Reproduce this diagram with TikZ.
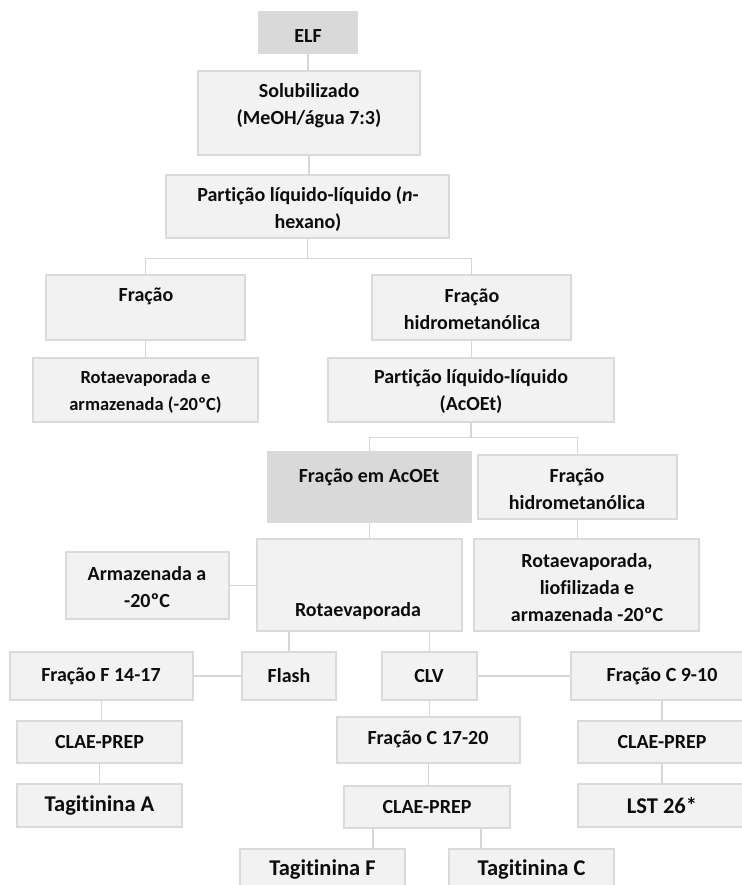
\documentclass[tikz,border=0pt]{standalone}
\usepackage{fontspec}
\setmainfont{Carlito}[Ligatures=NoCommon]
\usetikzlibrary{calc}
\definecolor{boxfill}{HTML}{F2F2F2}
\definecolor{boxdark}{HTML}{D9D9D9}
\definecolor{boxline}{HTML}{DADADA}
\definecolor{conn}{HTML}{D6D6D6}
\begin{document}
\begin{tikzpicture}[x=1pt,y=-1pt,
  box/.style={draw=boxline, fill=boxfill, line width=1.4pt, inner sep=0pt},
  darkbox/.style={box, fill=boxdark},
  txt/.style={font=\fontsize{20}{27}\selectfont\bfseries, align=center, inner sep=0pt, text=black!95},
  txtsmall/.style={txt, font=\fontsize{18.5}{27}\selectfont\bfseries},
  txtbig/.style={txt, font=\fontsize{22.5}{27}\selectfont\bfseries},
  link/.style={draw=conn, line width=1.4pt}]
\fill[white] (0,0) rectangle (741,885);
\useasboundingbox (0,0) rectangle (741,885);

% boxes
\node[darkbox, minimum width=98pt, minimum height=41pt] (elf) at (308,32.5) {};
\node[box, minimum width=222pt, minimum height=84pt] (sol) at (309,113) {};
\node[box, minimum width=283pt, minimum height=63pt] (part1) at (307.5,206.5) {};
\node[box, minimum width=199pt, minimum height=65pt] (frac) at (145.5,307.5) {};
\node[box, minimum width=199pt, minimum height=65pt] (fhid) at (471.5,307.5) {};
\node[box, minimum width=225pt, minimum height=64pt] (rot1) at (145.5,390) {};
\node[box, minimum width=286pt, minimum height=64pt] (part2) at (471,390) {};
\node[darkbox, minimum width=203pt, minimum height=70pt] (facoet) at (369.5,487) {};
\node[box, minimum width=199pt, minimum height=64pt] (fhid2) at (577.5,487) {};
\node[box, minimum width=205pt, minimum height=92pt] (rotev) at (359.5,585) {};
\node[box, minimum width=163pt, minimum height=67pt] (armaz) at (147.5,585.5) {};
\node[box, minimum width=225pt, minimum height=92pt] (rotliof) at (586.5,585) {};
\node[box, minimum width=183pt, minimum height=48pt] (fracF) at (101.5,676) {};
\node[box, minimum width=94pt, minimum height=48pt] (flash) at (289,676) {};
\node[box, minimum width=95pt, minimum height=48pt] (clv) at (429.5,676) {};
\node[box, minimum width=182pt, minimum height=48pt] (fc910) at (662,676) {};
\node[box, minimum width=165pt, minimum height=42pt] (clae1) at (99.5,742) {};
\node[box, minimum width=183pt, minimum height=46pt] (fc1720) at (428.5,740) {};
\node[box, minimum width=168pt, minimum height=42pt] (clae3) at (662,742) {};
\node[box, minimum width=165pt, minimum height=43pt] (tagA) at (99.5,805.5) {};
\node[box, minimum width=166pt, minimum height=42pt] (clae2) at (427,807) {};
\node[box, minimum width=168pt, minimum height=43pt] (lst) at (662,805.5) {};
\node[box, minimum width=165pt, minimum height=44pt] (tagF) at (322.5,871) {};
\node[box, minimum width=165pt, minimum height=44pt] (tagC) at (531.5,871) {};

% texts
\node[txt] (telf) at (308,36) {ELF};
\node[txt] (tsol) at (309,105.5) {Solubilizado\\(MeOH/água 7:3)};
\node[txt] (tpart1) at (308,209) {Partição líquido-líquido (\textit{n}-\\hexano)};
\node[txt] (tfrac) at (146,296) {Fração};
\node[txt] (tfhid) at (472,309.5) {Fração\\hidrometanólica};
\node[txtsmall] (trot1) at (145.5,391.5) {Rotaevaporada e\\armazenada (-20ºC)};
\node[txt] (tpart2) at (471,391.5) {Partição líquido-líquido\\(AcOEt)};
\node[txt] (tfacoet) at (369,477) {Fração em AcOEt};
\node[txt] (tfhid2) at (577,489) {Fração\\hidrometanólica};
\node[txt] (tarmaz) at (147,587.5) {Armazenada a\\-20ºC};
\node[txt] (trotev) at (358,611) {Rotaevaporada};
\node[txt] (trotliof) at (587,587.5) {Rotaevaporada,\\liofilizada e\\armazenada -20ºC};
\node[txt] (tfracF) at (101,676) {Fração F 14-17};
\node[txt] (tflash) at (289,676) {Flash};
\node[txt] (tclv) at (429,676) {CLV};
\node[txt] (tfc910) at (662,676) {Fração C 9-10};
\node[txt] (tclae1) at (99.5,742) {CLAE-PREP};
\node[txt] (tfc1720) at (428,739) {Fração C 17-20};
\node[txt] (tclae3) at (662,742) {CLAE-PREP};
\node[txtbig] (ttagA) at (99.5,806) {Tagitinina A};
\node[txt] (tclae2) at (427,807) {CLAE-PREP};
\node[txtbig] (tlst) at (662,806) {LST 26*};
\node[txtbig] (ttagF) at (322.5,870) {Tagitinina F};
\node[txtbig] (ttagC) at (531.5,870) {Tagitinina C};

% connectors
\draw[link] (elf.south) -- (elf.south |- sol.north);
\draw[link] (sol.south) -- (sol.south |- part1.north);
\coordinate (j1) at ($(part1.south)+(0,20)$);
\draw[link] (part1.south) -- (j1);
\draw[link] (frac.north) |- (j1) -| (fhid.north);
\draw[link] (frac.south) -- (frac.south |- rot1.north);
\draw[link] (fhid.south) -- (fhid.south |- part2.north);
\coordinate (j2) at ($(part2.south)+(0,15)$);
\draw[link] (part2.south) -- (j2);
\draw[link] (facoet.north) |- (j2) -| (fhid2.north);
\draw[link] (facoet.south) -- (facoet.south |- rotev.north);
\draw[link] (fhid2.south) -- (fhid2.south |- rotliof.north);
\draw[link] (armaz.east) -- (armaz.east -| rotev.west);
\draw[link] (flash.north |- rotev.south) -- (flash.north);
\draw[link] (clv.north |- rotev.south) -- (clv.north);
\draw[link] (fracF.east) -- (flash.west);
\draw[link] (clv.east) -- (fc910.west);
\draw[link] (fracF.south) -- (fracF.south |- clae1.north);
\draw[link] (clae1.south) -- (tagA.north);
\draw[link] (clv.south) -- (clv.south |- fc1720.north);
\draw[link] (fc1720.south) -- (fc1720.south |- clae2.north);
\draw[link] (fc910.south) -- (clae3.north);
\draw[link] (clae3.south) -- (lst.north);
\coordinate (cF) at ([xshift=-54pt]clae2.south);
\coordinate (cC) at ([xshift=54pt]clae2.south);
\draw[link] (cF) -- (cF |- tagF.north);
\draw[link] (cC) -- (cC |- tagC.north);
\end{tikzpicture}
\end{document}
